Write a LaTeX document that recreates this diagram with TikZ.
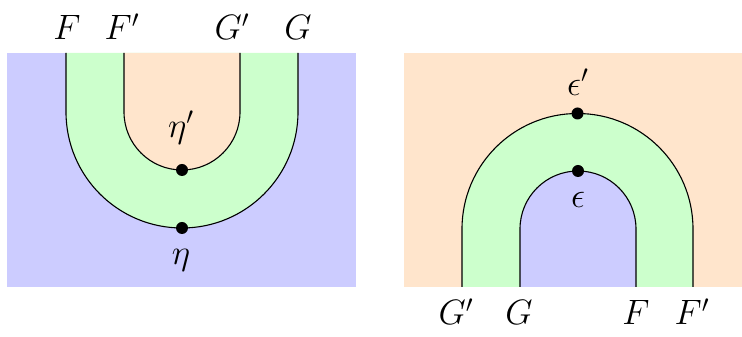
\documentclass[tikz,border=0pt]{standalone}
\usepackage{fontspec}
\definecolor{lav}{RGB}{204,204,255}
\definecolor{mint}{RGB}{204,255,204}
\definecolor{peach}{RGB}{255,229,204}
\newcommand{\biglbl}[1]{\scalebox{1.7}{\huge$#1$}}
\begin{document}
\begin{tikzpicture}[x=1pt,y=1pt,
  wire/.style={line width=1.1pt},
  dotnode/.style={circle,fill=black,inner sep=0pt,minimum size=12pt},
  lab/.style={inner sep=0pt}]
\useasboundingbox (0,0) rectangle (742,337);
% left panel
\fill[lav] (7,50) rectangle (356,284);
\fill[mint] (66,284) -- (66,225) arc(180:360:116) -- (298,284) -- cycle;
\fill[peach] (124,284) -- (124,225) arc(180:360:58) -- (240,284) -- cycle;
\draw[wire] (66,284) -- (66,225) arc(180:360:116) -- (298,284);
\draw[wire] (124,284) -- (124,225) arc(180:360:58) -- (240,284);
\node[dotnode] (eta) at (182,109) {};
\node[dotnode] (etap) at (182,167) {};
\node[lab] (etal) at (181,77) {\biglbl{\eta}};
\node[lab] (etapl) at (181,209) {\biglbl{\eta'}};
\node[lab,anchor=base] (F1) at (67,297) {\biglbl{F}};
\node[lab,anchor=base] (Fp1) at (122,297) {\biglbl{F'}};
\node[lab,anchor=base] (Gp1) at (232,297) {\biglbl{G'}};
\node[lab,anchor=base] (G1) at (298,297) {\biglbl{G}};
% right panel
\fill[peach] (404,50) rectangle (742,284);
\fill[mint] (462,50) -- (462,108) arc(180:0:115.5) -- (693,50) -- cycle;
\fill[lav] (520,50) -- (520,108) arc(180:0:58) -- (636,50) -- cycle;
\draw[wire] (462,50) -- (462,108) arc(180:0:115.5) -- (693,50);
\draw[wire] (520,50) -- (520,108) arc(180:0:58) -- (636,50);
\node[dotnode] (epsp) at (577.5,223.5) {};
\node[dotnode] (eps) at (578,166) {};
\node[lab] (epspl) at (578,255) {\biglbl{\epsilon'}};
\node[lab] (epsl) at (578,137) {\biglbl{\epsilon}};
\node[lab,anchor=base] (Gp2) at (456,12) {\biglbl{G'}};
\node[lab,anchor=base] (G2) at (519,12) {\biglbl{G}};
\node[lab,anchor=base] (F2) at (636,12) {\biglbl{F}};
\node[lab,anchor=base] (Fp2) at (692,12) {\biglbl{F'}};
\end{tikzpicture}
\end{document}
